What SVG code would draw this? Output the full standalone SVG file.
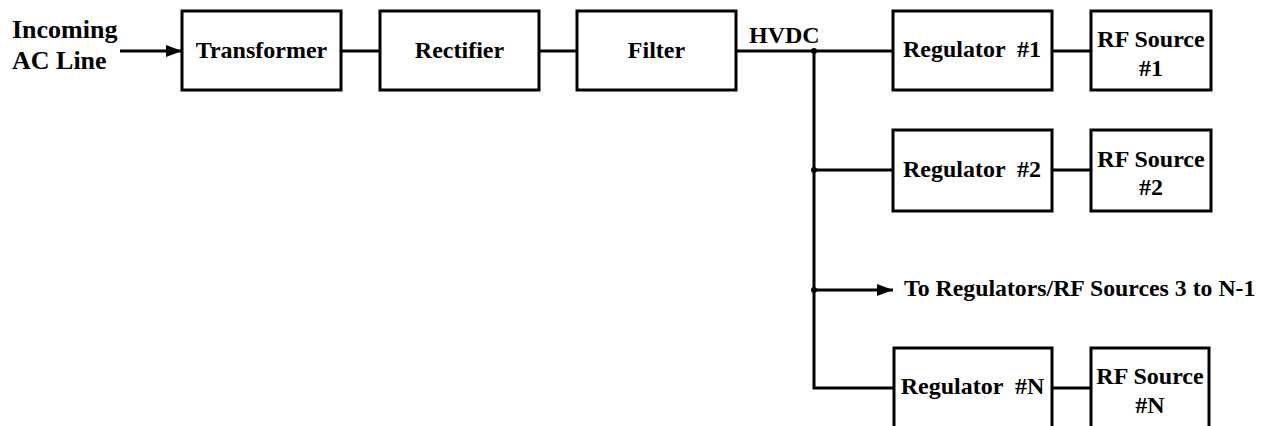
<svg xmlns="http://www.w3.org/2000/svg" width="1264" height="426" viewBox="0 0 1264 426">
<defs>
<marker id="arr" viewBox="0 0 16 12" refX="16" refY="6" markerWidth="16" markerHeight="12" markerUnits="userSpaceOnUse" orient="auto">
<path d="M0,0 L16,6 L0,12 Z" fill="#000"/>
</marker>
<style>
.box{fill:#fff;stroke:#000;stroke-width:3}
.ln{fill:none;stroke:#000;stroke-width:3}
text{font-family:'Liberation Serif',Tinos,'Times New Roman',serif;font-weight:bold;fill:#000}
.lb{font-size:24px;text-anchor:middle}
.rf{font-size:24px;text-anchor:middle}
</style>
</defs>
<rect width="1264" height="426" fill="#fff"/>
<g id="connectors">
<line class="ln" x1="120" y1="51" x2="182" y2="51" marker-end="url(#arr)"/>
<line class="ln" x1="341" y1="51" x2="380" y2="51"/>
<line class="ln" x1="539" y1="51" x2="577" y2="51"/>
<line class="ln" x1="736" y1="51" x2="893" y2="51"/>
<polyline class="ln" points="814,51 814,388 894,388"/>
<line class="ln" x1="814" y1="170" x2="893" y2="170"/>
<line class="ln" x1="814" y1="290" x2="893" y2="290" marker-end="url(#arr)"/>
<line class="ln" x1="1052" y1="51" x2="1091" y2="51"/>
<line class="ln" x1="1052" y1="170" x2="1091" y2="170"/>
<line class="ln" x1="1052" y1="388" x2="1091" y2="388"/>
<circle cx="814" cy="51" r="3" fill="#000"/>
<circle cx="814" cy="170" r="3" fill="#000"/>
<circle cx="814" cy="290" r="3" fill="#000"/>
</g>
<g id="input">
<text x="12" y="38" font-size="26">Incoming</text>
<text x="12" y="69" font-size="26">AC Line</text>
</g>
<g id="transformer"><rect class="box" x="182" y="11" width="159" height="79"/><text class="lb" x="261.5" y="58">Transformer</text></g>
<g id="rectifier"><rect class="box" x="380" y="11" width="159" height="79"/><text class="lb" x="459.5" y="58">Rectifier</text></g>
<g id="filter"><rect class="box" x="577" y="11" width="159" height="79"/><text class="lb" x="656.5" y="58">Filter</text></g>
<g id="hvdc"><text x="749" y="43" font-size="24">HVDC</text></g>
<g id="reg1"><rect class="box" x="893" y="11" width="159" height="79"/><text class="lb" x="972" y="57" xml:space="preserve">Regulator  #1</text></g>
<g id="rf1"><rect class="box" x="1091" y="11" width="120" height="79"/><text class="rf" x="1151" y="47">RF Source</text><text class="rf" x="1151" y="76">#1</text></g>
<g id="reg2"><rect class="box" x="893" y="130" width="159" height="81"/><text class="lb" x="972" y="177" xml:space="preserve">Regulator  #2</text></g>
<g id="rf2"><rect class="box" x="1091" y="130" width="120" height="81"/><text class="rf" x="1151" y="167">RF Source</text><text class="rf" x="1151" y="195">#2</text></g>
<g id="others"><text x="904" y="296" font-size="23.8">To Regulators/RF Sources 3 to N-1</text></g>
<g id="regN"><rect class="box" x="894" y="348" width="158" height="90"/><text class="lb" x="972.5" y="394" xml:space="preserve">Regulator  #N</text></g>
<g id="rfN"><rect class="box" x="1091" y="348" width="118" height="90"/><text class="rf" x="1150" y="384">RF Source</text><text class="rf" x="1150" y="413">#N</text></g>
</svg>
